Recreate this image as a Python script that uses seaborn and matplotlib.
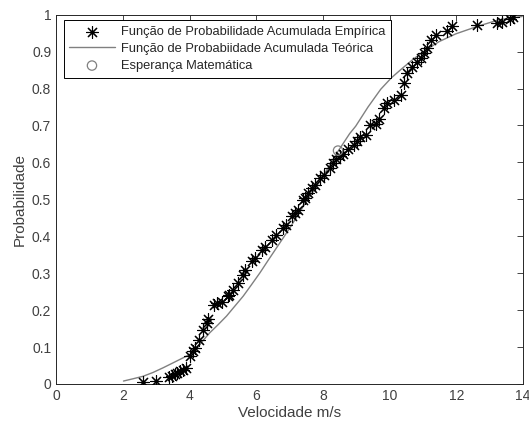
import numpy as np
import pandas as pd
import matplotlib
matplotlib.use('Agg')
import matplotlib.pyplot as plt
import seaborn as sns
from matplotlib.ticker import FuncFormatter

vel_emp = [2.60, 2.99, 3.39, 3.46, 3.55, 3.61, 3.70, 3.80, 3.89, 4.01, 4.09, 4.16,
           4.29, 4.41, 4.51, 4.56, 4.73, 4.81, 4.96, 5.14, 5.19, 5.30, 5.46, 5.59,
           5.66, 5.86, 5.97, 6.16, 6.25, 6.48, 6.60, 6.79, 6.89, 7.06, 7.17, 7.26,
           7.39, 7.46, 7.56, 7.66, 7.76, 7.90, 8.03, 8.20, 8.30, 8.40, 8.50, 8.60,
           8.75, 8.93, 9.03, 9.10, 9.30, 9.40, 9.60, 9.68, 9.83, 9.93, 10.13, 10.33,
           10.43, 10.53, 10.68, 10.83, 10.93, 11.03, 11.13, 11.23, 11.38, 11.73,
           11.88, 12.62, 13.22, 13.37, 13.59, 13.69]
prob_emp = [0.005, 0.008, 0.018, 0.023, 0.027, 0.030, 0.035, 0.039, 0.044, 0.075,
            0.089, 0.098, 0.119, 0.147, 0.166, 0.175, 0.215, 0.218, 0.221, 0.238,
            0.242, 0.255, 0.274, 0.296, 0.310, 0.332, 0.342, 0.364, 0.372, 0.391,
            0.404, 0.423, 0.430, 0.456, 0.462, 0.472, 0.497, 0.504, 0.516, 0.531,
            0.540, 0.558, 0.566, 0.585, 0.597, 0.608, 0.617, 0.622, 0.635, 0.648,
            0.659, 0.670, 0.675, 0.702, 0.705, 0.717, 0.747, 0.760, 0.769, 0.783,
            0.814, 0.843, 0.859, 0.873, 0.882, 0.897, 0.909, 0.932, 0.945, 0.957,
            0.968, 0.973, 0.977, 0.981, 0.987, 0.995]

# theoretical CDF curve
vel_teo = [2.02, 2.3, 2.61, 2.9, 3.21, 3.5, 3.81, 4.01, 4.3, 4.61, 4.85, 5.11,
           5.35, 5.61, 5.85, 6.11, 6.35, 6.61, 7.01, 7.41, 8.0, 8.45, 8.8, 8.98,
           9.35, 9.73, 10.05, 10.38, 10.7, 10.98, 11.48, 11.98, 12.62, 13.27, 13.97]
prob_teo = [0.008, 0.014, 0.021, 0.031, 0.044, 0.057, 0.071, 0.080, 0.107, 0.139,
            0.160, 0.184, 0.210, 0.238, 0.268, 0.301, 0.334, 0.369, 0.423, 0.481,
            0.562, 0.630, 0.678, 0.698, 0.750, 0.798, 0.829, 0.855, 0.879, 0.898,
            0.927, 0.948, 0.968, 0.986, 0.995]

# expected value
vel_media = [8.45]
prob_media = [0.632]

sns.set_style('white')
plt.rcParams['font.family'] = ['Liberation Sans', 'DejaVu Sans']

emp = pd.DataFrame({'v': vel_emp, 'p': prob_emp})
teo = pd.DataFrame({'v': vel_teo, 'p': prob_teo})
med = pd.DataFrame({'v': vel_media, 'p': prob_media})

fig = plt.figure(figsize=(5.29, 4.26), dpi=100)
ax = fig.add_axes([0.106, 0.0986, 0.883, 0.867])

sns.scatterplot(data=emp, x='v', y='p', ax=ax, marker=(8, 2, 0), s=75,
                color='black', linewidth=0.8, edgecolor='black',
                label='Função de Probabilidade Acumulada Empírica', zorder=3)
sns.lineplot(data=teo, x='v', y='p', ax=ax, color='#808080', linewidth=1.0,
             sort=False, label='Função de Probabiidade Acumulada Teórica', zorder=2)
sns.scatterplot(data=med, x='v', y='p', ax=ax, marker='o', s=45,
                facecolor='none', edgecolor='#808080', linewidth=0.9,
                label='Esperança Matemática', zorder=4)

ax.set_xlim(0, 14)
ax.set_ylim(0, 1)
ax.set_xticks(np.arange(0, 15, 2))
ax.set_yticks(np.arange(0, 1.01, 0.1))
ax.yaxis.set_major_formatter(FuncFormatter(lambda v, p: '%g' % round(v, 1)))

dark = '#262626'
ax.tick_params(direction='in', length=4, width=0.6, colors=dark,
               labelsize=10, top=True, right=True, labelcolor='#404040')
for sp in ax.spines.values():
    sp.set_color(dark)
    sp.set_linewidth(0.7)

ax.set_xlabel('Velocidade m/s', fontsize=11, color='#404040', labelpad=2)
ax.set_ylabel('Probabilidade', fontsize=11, color='#404040', labelpad=4)

leg = ax.legend(loc='upper left', bbox_to_anchor=(0.016, 0.985), fontsize=9.3,
                frameon=True, fancybox=False, framealpha=1, edgecolor='black',
                handlelength=3.5, handletextpad=0.5, labelspacing=0.38,
                borderpad=0.45, borderaxespad=0)
leg.get_frame().set_linewidth(0.7)

fig.savefig('out.png', dpi=100)
